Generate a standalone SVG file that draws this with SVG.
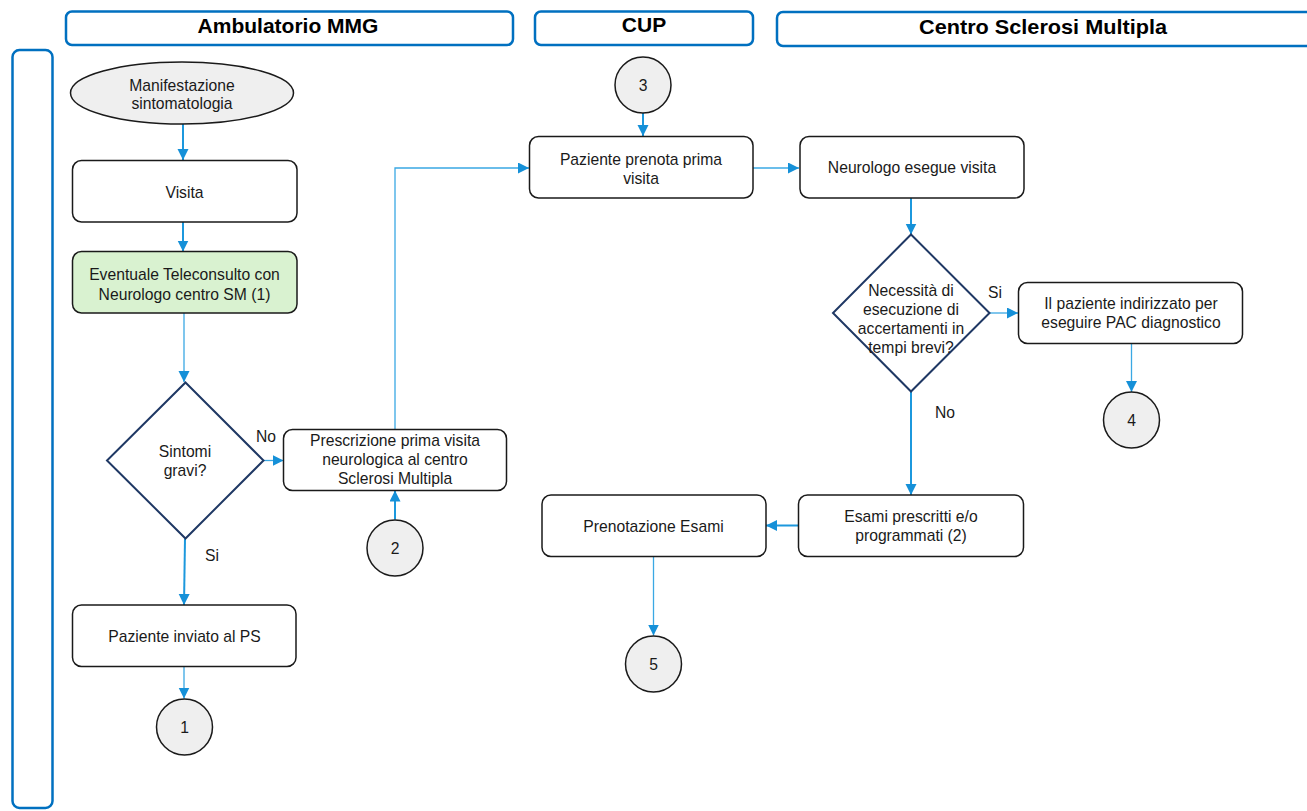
<svg xmlns="http://www.w3.org/2000/svg" width="1307" height="811" viewBox="0 0 1307 811">
<style>
.hdr{fill:#fff;stroke:#0070C0;stroke-width:2.5}
.ht{font-family:"Liberation Sans",Arial,sans-serif;font-weight:bold;font-size:21px;fill:#000;text-anchor:middle}
.box{fill:#fff;stroke:#1a1a1a;stroke-width:1.5}
.green{fill:#D9F2D0;stroke:#1a1a1a;stroke-width:1.5}
.term{fill:#EFEFEF;stroke:#1a1a1a;stroke-width:1.5}
.dia{fill:#fff;stroke:#1F3864;stroke-width:2}
.t{font-family:"Liberation Sans",Arial,sans-serif;font-size:15.7px;fill:#1a1a1a;text-anchor:middle}
.lbl{font-family:"Liberation Sans",Arial,sans-serif;font-size:15.7px;fill:#1a1a1a}
.c{fill:none;stroke:#1C98DD;stroke-width:2}
.c1{fill:none;stroke:#3AA8E4;stroke-width:1.3}
</style>
<defs>
<marker id="ah" markerUnits="userSpaceOnUse" markerWidth="12" markerHeight="12" refX="11" refY="5.5" orient="auto">
<path d="M0,0 L11,5.5 L0,11 z" fill="#1590D8"/>
</marker>
</defs>
<g id="lanes">
<rect class="hdr" x="66" y="11.5" width="447" height="33.5" rx="6"/>
<text class="ht" x="288" y="33">Ambulatorio MMG</text>
<rect class="hdr" x="535" y="11.5" width="218" height="33.5" rx="6"/>
<text class="ht" x="644" y="32">CUP</text>
<rect class="hdr" x="777" y="12" width="540" height="34" rx="6"/>
<text class="ht" x="1043" y="34" textLength="248" lengthAdjust="spacingAndGlyphs">Centro Sclerosi Multipla</text>
<rect class="hdr" x="12.5" y="50" width="40" height="758" rx="7"/>
</g>
<g id="connectors">
<path class="c" d="M183,124 V160" marker-end="url(#ah)"/>
<path class="c" d="M183,222 V251.5" marker-end="url(#ah)"/>
<path class="c1" d="M184,313 V382" marker-end="url(#ah)"/>
<path class="c1" d="M263.5,460.5 H283.5" marker-end="url(#ah)"/>
<path class="c" d="M185,538.5 L184,605" marker-end="url(#ah)"/>
<path class="c1" d="M184,666.5 V698.5" marker-end="url(#ah)"/>
<path class="c" d="M395,519.5 V490.5" marker-end="url(#ah)"/>
<path class="c1" d="M395,429.5 V168 H529" marker-end="url(#ah)"/>
<path class="c" d="M643,113 V136" marker-end="url(#ah)"/>
<path class="c1" d="M753,168 H799" marker-end="url(#ah)"/>
<path class="c" d="M911,198 V234.5" marker-end="url(#ah)"/>
<path class="c1" d="M989.5,313 H1018" marker-end="url(#ah)"/>
<path class="c1" d="M1131.5,343.5 V392" marker-end="url(#ah)"/>
<path class="c" d="M911,391.5 V495" marker-end="url(#ah)"/>
<path class="c" d="M798.5,525.5 H766" marker-end="url(#ah)"/>
<path class="c1" d="M653.5,556.5 V635.5" marker-end="url(#ah)"/>
<text class="lbl" x="256" y="442">No</text>
<text class="lbl" x="205" y="561">Si</text>
<text class="lbl" x="988" y="298">Si</text>
<text class="lbl" x="935" y="418">No</text>
</g>
<g id="n_manifestazione">
<ellipse class="term" cx="182" cy="93" rx="111.5" ry="31"/>
<text class="t" x="182" y="90.5">Manifestazione</text>
<text class="t" x="182" y="108.5">sintomatologia</text>
</g>
<g id="n_visita">
<rect class="box" x="72.5" y="160.5" width="224.5" height="61.5" rx="9"/>
<text class="t" x="184.5" y="198">Visita</text>
</g>
<g id="n_teleconsulto">
<rect class="green" x="72.5" y="251.5" width="224.5" height="61.5" rx="9"/>
<text class="t" x="184.5" y="279.5">Eventuale Teleconsulto con</text>
<text class="t" x="184.5" y="299.5">Neurologo centro SM (1)</text>
</g>
<g id="n_sintomi">
<polygon class="dia" points="185.5,382.5 263.5,460.5 185.5,538.5 107,460.5"/>
<text class="t" x="185" y="457">Sintomi</text>
<text class="t" x="185" y="476">gravi?</text>
</g>
<g id="n_prescrizione">
<rect class="box" x="283.5" y="429.5" width="223" height="61" rx="9"/>
<text class="t" x="395" y="446">Prescrizione prima visita</text>
<text class="t" x="395" y="465">neurologica al centro</text>
<text class="t" x="395" y="484">Sclerosi Multipla</text>
</g>
<g id="n_ps">
<rect class="box" x="72.5" y="605" width="223.5" height="61.5" rx="9"/>
<text class="t" x="184.5" y="641.5">Paziente inviato al PS</text>
</g>
<g id="n_c1">
<circle class="term" cx="184.5" cy="727" r="28"/>
<text class="t" x="184.5" y="732.5">1</text>
</g>
<g id="n_c2">
<circle class="term" cx="395" cy="548" r="28"/>
<text class="t" x="395" y="553.5">2</text>
</g>
<g id="n_c3">
<circle class="term" cx="643" cy="85" r="28"/>
<text class="t" x="643" y="90.5">3</text>
</g>
<g id="n_prenota">
<rect class="box" x="529.5" y="136.5" width="223.5" height="61.5" rx="9"/>
<text class="t" x="641" y="165">Paziente prenota prima</text>
<text class="t" x="641" y="184">visita</text>
</g>
<g id="n_neurologo">
<rect class="box" x="800" y="136.5" width="224" height="61.5" rx="9"/>
<text class="t" x="912" y="173">Neurologo esegue visita</text>
</g>
<g id="n_necessita">
<polygon class="dia" points="911,234.5 989.5,313 911,391.5 833,313"/>
<text class="t" x="911" y="296">Necessità di</text>
<text class="t" x="911" y="315">esecuzione di</text>
<text class="t" x="911" y="334">accertamenti in</text>
<text class="t" x="911" y="353">tempi brevi?</text>
</g>
<g id="n_pac">
<rect class="box" x="1018.5" y="282.5" width="224" height="61" rx="9"/>
<text class="t" x="1131" y="308.5">Il paziente indirizzato per</text>
<text class="t" x="1131" y="327.5">eseguire PAC diagnostico</text>
</g>
<g id="n_c4">
<circle class="term" cx="1131.5" cy="420" r="28"/>
<text class="t" x="1131.5" y="425.5">4</text>
</g>
<g id="n_esami">
<rect class="box" x="798.5" y="495" width="225" height="61.5" rx="9"/>
<text class="t" x="911" y="521.5">Esami prescritti e/o</text>
<text class="t" x="911" y="541">programmati (2)</text>
</g>
<g id="n_prenotazione">
<rect class="box" x="542" y="495" width="224" height="61.5" rx="9"/>
<text class="t" x="653.5" y="531.5">Prenotazione Esami</text>
</g>
<g id="n_c5">
<circle class="term" cx="653.5" cy="664" r="28"/>
<text class="t" x="653.5" y="669.5">5</text>
</g>
</svg>
